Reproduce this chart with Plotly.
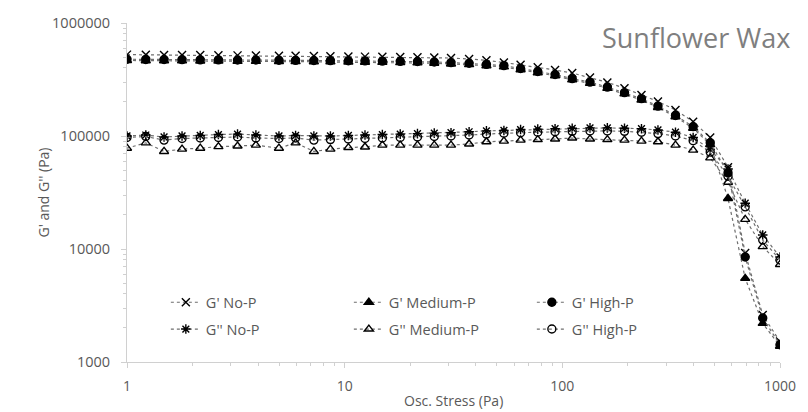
import plotly.graph_objects as go

# Oscillation stress (Pa)
stress = [1.00, 1.22, 1.48, 1.79, 2.17, 2.63, 3.22, 3.91, 4.99, 5.95, 7.22, 8.60,
          10.4, 12.4, 14.9, 18.0, 21.6, 25.8, 30.8, 37.3, 44.8, 53.9, 64.3, 77.1,
          92.6, 111, 134, 161, 193, 231, 275, 331, 399, 478, 577, 692, 833, 1000]

g1_no = [525000, 523000, 522000, 520000, 520000, 518000, 517000, 516000, 514000, 512000,
         510000, 508000, 506000, 504000, 502000, 500000, 497000, 494000, 490000, 480000,
         468000, 447000, 427000, 406000, 384000, 361000, 330000, 298000, 265000, 231000,
         202000, 170000, 134000, 97000, 53000, 9200, 2600, 1520]
g1_med = [466000, 464000, 463000, 462000, 460000, 460000, 458000, 458000, 456000, 455000,
          454000, 453000, 451000, 450000, 448000, 446000, 444000, 440000, 434000, 428000,
          419000, 409000, 386000, 362000, 341000, 314000, 292000, 264000, 236000, 208000,
          179000, 148000, 117000, 84000, 28000, 5500, 2200, 1380]
g1_high = [478000, 476000, 475000, 474000, 472000, 472000, 470000, 470000, 468000, 467000,
           466000, 465000, 463000, 462000, 460000, 458000, 456000, 452000, 446000, 440000,
           430000, 420000, 396000, 372000, 350000, 322000, 300000, 271000, 242000, 214000,
           184000, 152000, 121000, 87000, 47000, 8500, 2450, 1420]
g2_no = [100000, 102000, 98000, 100000, 101000, 103000, 104000, 102000, 100000, 101000,
         100000, 100000, 101000, 102000, 103000, 104000, 105000, 106000, 107000, 109000,
         111000, 112000, 114000, 115000, 116000, 117000, 118000, 118000, 117000, 116000,
         113000, 108000, 97000, 76000, 51000, 25400, 13300, 8500]
g2_med = [78000, 87000, 73000, 76500, 78000, 80500, 81500, 83000, 78000, 87000,
          73000, 76500, 79000, 80000, 83000, 83000, 83000, 83000, 83000, 85000,
          89000, 90000, 92000, 93000, 94000, 96000, 94000, 93000, 92000, 90000,
          89000, 83000, 75000, 64000, 39000, 18300, 10500, 7300]
g2_high = [97000, 99000, 92000, 95000, 96000, 97000, 98000, 96000, 95000, 96000,
           92000, 93000, 94000, 95000, 96000, 97000, 98000, 99000, 100000, 102000,
           104000, 106000, 107000, 108000, 109000, 110000, 111000, 111000, 110000, 108000,
           105000, 100000, 91000, 72000, 44000, 23600, 12000, 8000]

x_tickvals = [1, 10, 100, 1000]
x_ticktext = ["1", "10", "100", "1000"]
y_tickvals = [1000, 10000, 100000, 1000000]
y_ticktext = ["1000", "10000", "100000", "1000000"]

LINE = dict(color="#6e6e6e", width=1.2, dash="dot")
AX = "#d0d0d0"
TXT = "#595959"

series = [
    ("G'' No-P", g2_no, "asterisk-open", "legend2"),
    ("G'' Medium-P", g2_med, "triangle-up-open", "legend2"),
    ("G'' High-P", g2_high, "circle-open", "legend2"),
    ("G' No-P", g1_no, "x-thin-open", "legend"),
    ("G' Medium-P", g1_med, "triangle-up", "legend"),
    ("G' High-P", g1_high, "circle", "legend"),
]

fig = go.Figure()
for name, vals, sym, leg in series:
    fig.add_trace(go.Scatter(
        x=stress, y=vals, name=name, mode="lines+markers",
        line=LINE, legend=leg,
        marker=dict(symbol=sym, size=8, color="black",
                    line=dict(color="black", width=1.4)),
    ))

fig.update_layout(
    width=808, height=412,
    margin=dict(l=127, r=25, t=23, b=50),
    paper_bgcolor="white", plot_bgcolor="white",
    font=dict(family="Open Sans", color=TXT),
    showlegend=True,
    legend=dict(orientation="h", x=0.0595, xanchor="left", y=0.176, yanchor="middle",
                entrywidth=138, entrywidthmode="pixels", bgcolor="rgba(0,0,0,0)",
                font=dict(size=14.5, color=TXT), traceorder="normal"),
    legend2=dict(orientation="h", x=0.0595, xanchor="left", y=0.097, yanchor="middle",
                 entrywidth=138, entrywidthmode="pixels", bgcolor="rgba(0,0,0,0)",
                 font=dict(size=14.5, color=TXT), traceorder="normal"),
    xaxis=dict(type="log", range=[0, 3], showgrid=False, zeroline=False,
               showline=True, linecolor=AX, linewidth=1,
               ticks="outside", ticklen=5, tickcolor=AX,
               tickmode="array", tickvals=x_tickvals, ticktext=x_ticktext,
               tickfont=dict(size=14, color=TXT), ticklabelstandoff=6,
               minor=dict(ticks="outside", ticklen=3, tickcolor=AX, dtick="D1", showgrid=False)),
    yaxis=dict(type="log", range=[3, 6], showgrid=False, zeroline=False,
               showline=True, linecolor=AX, linewidth=1,
               ticks="outside", ticklen=5, tickcolor=AX,
               tickmode="array", tickvals=y_tickvals, ticktext=y_ticktext,
               tickfont=dict(size=14.5, color=TXT), ticklabelstandoff=8,
               minor=dict(ticks="outside", ticklen=3, tickcolor=AX, dtick="D1", showgrid=False)),
    annotations=[
        dict(text="Sunflower Wax", xref="paper", yref="paper", x=1.019, y=0.9587,
             xanchor="right", yanchor="middle", showarrow=False,
             font=dict(size=27, color="#7f7f7f", family="Open Sans")),
        dict(text="Osc. Stress (Pa)", xref="paper", yref="paper",
             x=(455 - 127) / 656, y=(362 - 400) / 339, xanchor="center", yanchor="middle",
             showarrow=False, font=dict(size=14, color=TXT)),
        dict(text="G' and G'' (Pa)", xref="paper", yref="paper",
             x=(43 - 127) / 656, y=(362 - 192) / 339, xanchor="center", yanchor="middle",
             textangle=-90, showarrow=False, font=dict(size=14, color=TXT)),
    ],
)

fig.write_html("out.html")
